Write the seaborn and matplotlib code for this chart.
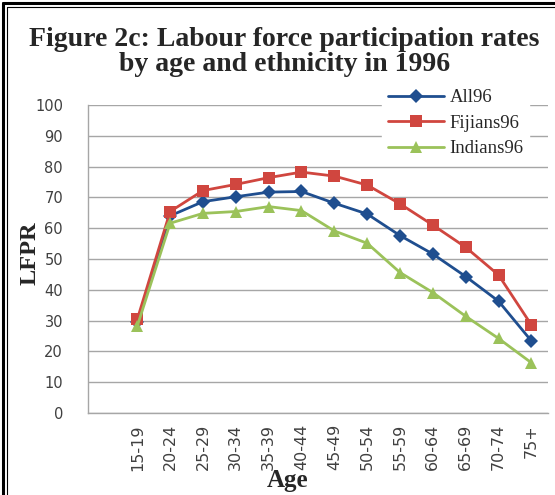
import numpy as np
import pandas as pd
import seaborn as sns
import matplotlib
matplotlib.use("Agg")
from matplotlib import pyplot as plt
from matplotlib.lines import Line2D

# Datos
edades = ["15-19", "20-24", "25-29", "30-34", "35-39", "40-44", "45-49",
          "50-54", "55-59", "60-64", "65-69", "70-74", "75+"]
all96 = [29.5, 64.0, 68.6, 70.2, 71.7, 71.9, 68.1, 64.6, 57.6, 51.6, 44.3, 36.3, 23.4]
fijians96 = [30.4, 65.4, 72.2, 74.2, 76.4, 78.2, 76.9, 74.0, 67.9, 61.0, 53.8, 44.8, 28.6]
indians96 = [28.2, 61.6, 64.8, 65.4, 67.0, 65.7, 59.1, 55.1, 45.6, 39.1, 31.4, 24.2, 16.3]
series = ["All96", "Fijians96", "Indians96"]

# La primera categoría del eje está vacía (como en el original)
categorias = [""] + edades
pos = np.arange(1, len(categorias))

df = pd.DataFrame({
    "pos": np.tile(pos, 3),
    "LFPR": all96 + fijians96 + indians96,
    "serie": np.repeat(series, len(edades)),
})

sns.set_style("white")

fig = plt.figure(figsize=(5.55, 4.95), dpi=100)
ax = fig.add_axes([0.1586, 0.1657, 0.8284, 0.6223])

colores = {"All96": "#1F4E8F", "Fijians96": "#D0463F", "Indians96": "#9BC25A"}
marcadores = {"All96": "D", "Fijians96": "s", "Indians96": "^"}
tamanos = {"All96": 7, "Fijians96": 8, "Indians96": 8}

for s in series:
    sub = df[df["serie"] == s]
    sns.lineplot(data=sub, x="pos", y="LFPR", ax=ax, color=colores[s],
                 marker=marcadores[s], markersize=tamanos[s], markeredgewidth=0,
                 linewidth=2, label=s, zorder=3)

ax.set_xlim(-0.5, len(categorias) - 0.5)
ax.set_ylim(0, 100)
ax.set_yticks(range(0, 101, 10))
ax.yaxis.grid(True, color="#A6A6A6", linewidth=1)
ax.xaxis.grid(False)

ax.set_xticks(np.arange(len(categorias)))
ax.set_xticklabels(categorias, rotation=90,
                   family=["Liberation Sans Narrow", "DejaVu Sans"], fontsize=11.5,
                   color="#404040")
ax.set_xticks(np.arange(-0.5, len(categorias)), minor=True)
ax.tick_params(axis="x", which="major", length=0, pad=8)
ax.tick_params(axis="x", which="minor", length=5, color="#A6A6A6", width=1, direction="out")
ax.tick_params(axis="y", length=6, color="#A6A6A6", width=1, direction="out",
               labelsize=10.5, labelcolor="#404040", pad=12)
for lab in ax.get_yticklabels():
    lab.set_family("DejaVu Sans")

for lado in ["top", "right"]:
    ax.spines[lado].set_visible(False)
for lado in ["left", "bottom"]:
    ax.spines[lado].set_color("#A6A6A6")
    ax.spines[lado].set_linewidth(1)

ax.set_xlabel("Age", family="Liberation Serif", fontweight="bold", fontsize=18)
ax.xaxis.set_label_coords(0.433, -0.183)
ax.set_ylabel("LFPR", family="Liberation Serif", fontweight="bold", fontsize=17.5)
ax.yaxis.set_label_coords(-0.104, 0.52)

leg = ax.legend(loc="upper left", bbox_to_anchor=(0.64, 1.07), frameon=True,
                prop={"family": "Liberation Serif", "size": 13.5},
                handlelength=3.0, handletextpad=0.3, labelspacing=0.45,
                borderaxespad=0, borderpad=0.3)
leg.get_frame().set_edgecolor("white")
leg.get_frame().set_facecolor("white")
leg.get_frame().set_alpha(1)
leg.set_zorder(5)

fig.text(0.512, 0.895, "Figure 2c: Labour force participation rates\nby age and ethnicity in 1996",
         ha="center", va="center", family="Liberation Serif", fontweight="bold",
         fontsize=20, linespacing=1.0)

# Marco doble (izquierda y arriba)
fig.add_artist(Line2D([0.0055, 0.0055], [0, 0.993], color="black", linewidth=2.2,
                      transform=fig.transFigure))
fig.add_artist(Line2D([0.0125, 0.0125], [0, 0.985], color="black", linewidth=0.8,
                      transform=fig.transFigure))
fig.add_artist(Line2D([0.0055, 1], [0.993, 0.993], color="black", linewidth=2.2,
                      transform=fig.transFigure))
fig.add_artist(Line2D([0.0125, 1], [0.985, 0.985], color="black", linewidth=0.8,
                      transform=fig.transFigure))

fig.savefig("out.png", dpi=100)
